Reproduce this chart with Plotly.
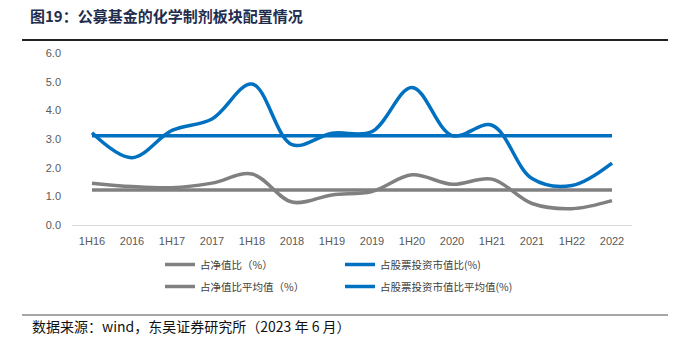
import plotly.graph_objects as go

categories = ["1H16", "2016", "1H17", "2017", "1H18", "2018", "1H19", "2019",
              "1H20", "2020", "1H21", "2021", "1H22", "2022"]
stock_ratio = [3.22, 2.35, 3.30, 3.70, 4.92, 2.80, 3.20, 3.26, 4.80, 3.12, 3.48, 1.62, 1.38, 2.16]
nav_ratio = [1.46, 1.34, 1.30, 1.46, 1.78, 0.80, 1.05, 1.17, 1.75, 1.42, 1.60, 0.75, 0.57, 0.85]
stock_avg = [3.11] * 14
nav_avg = [1.22] * 14
ytick_vals = [0, 1, 2, 3, 4, 5, 6]
ytick_text = ["0.0", "1.0", "2.0", "3.0", "4.0", "5.0", "6.0"]

BLUE = "#0070C0"
GRAY = "#808080"
CJK = "Noto Sans CJK SC"

fig = go.Figure()
fig.add_trace(go.Scatter(x=categories, y=nav_ratio, mode="lines", name="占净值比（%）",
                         line=dict(color=GRAY, width=3.5, shape="spline", smoothing=1.0),
                         legend="legend", legendgroup="a"))
fig.add_trace(go.Scatter(x=categories, y=nav_avg, mode="lines", name="占净值比平均值（%）",
                         line=dict(color=GRAY, width=3.5),
                         legend="legend", legendgroup="b"))
fig.add_trace(go.Scatter(x=categories, y=stock_ratio, mode="lines", name="占股票投资市值比(%)",
                         line=dict(color=BLUE, width=3.5, shape="spline", smoothing=1.0),
                         legend="legend2", legendgroup="c"))
fig.add_trace(go.Scatter(x=categories, y=stock_avg, mode="lines", name="占股票投资市值比平均值(%)",
                         line=dict(color=BLUE, width=3.5),
                         legend="legend2", legendgroup="d"))

W, H = 680, 355
L, R, T, B = 72, 48, 53, 130
pw, ph = W - L - R, H - T - B

def px_x(x):
    return (x - L) / pw

def px_y(y):
    return (H - B - y) / ph

legend_common = dict(orientation="v", yanchor="top", xanchor="left",
                     font=dict(family=CJK, size=10.5, color="#404040"),
                     bgcolor="rgba(0,0,0,0)", tracegroupgap=3, itemwidth=30)

fig.update_layout(
    width=W, height=H,
    margin=dict(l=L, r=R, t=T, b=B),
    paper_bgcolor="white", plot_bgcolor="white",
    font=dict(family="Liberation Sans, Arial", color="#595959", size=11),
    title=dict(text="<b>图19：公募基金的化学制剂板块配置情况</b>", x=30 / W, xanchor="left",
               xref="container", y=1 - 17 / H, yanchor="middle", yref="container",
               font=dict(family=CJK, size=15, color="#1F2D4D")),
    xaxis=dict(type="category", range=[-0.5, 13.5], showgrid=False, zeroline=False,
               showline=True, linecolor="#D9D9D9", linewidth=1, ticks="",
               ticklabelstandoff=6,
               tickfont=dict(family="Liberation Sans, Arial", size=11, color="#595959")),
    yaxis=dict(range=[0, 6], tickvals=ytick_vals, ticktext=ytick_text, showgrid=False,
               zeroline=False, showline=False, ticks="", ticklabelstandoff=10,
               tickfont=dict(family="Liberation Sans, Arial", size=11, color="#595959")),
    legend=dict(x=px_x(160), y=px_y(250), **legend_common),
    legend2=dict(x=px_x(340), y=px_y(250), **legend_common),
    showlegend=True,
)

fig.add_shape(type="line", xref="paper", yref="paper", x0=px_x(22), x1=px_x(668),
              y0=px_y(40), y1=px_y(40), line=dict(color="#222222", width=2))
fig.add_shape(type="line", xref="paper", yref="paper", x0=px_x(22), x1=px_x(668),
              y0=px_y(315), y1=px_y(315), line=dict(color="#888888", width=1.5))
fig.add_annotation(text="数据来源：wind，东吴证券研究所（2023 年 6 月）", xref="paper", yref="paper",
                   x=px_x(30), y=px_y(326), xanchor="left", yanchor="middle", showarrow=False,
                   font=dict(family=CJK, size=14, color="#111111"))

fig.write_html("out.html", config={"displayModeBar": False},
               post_script="document.body.style.margin='0';document.body.style.padding='0';")
